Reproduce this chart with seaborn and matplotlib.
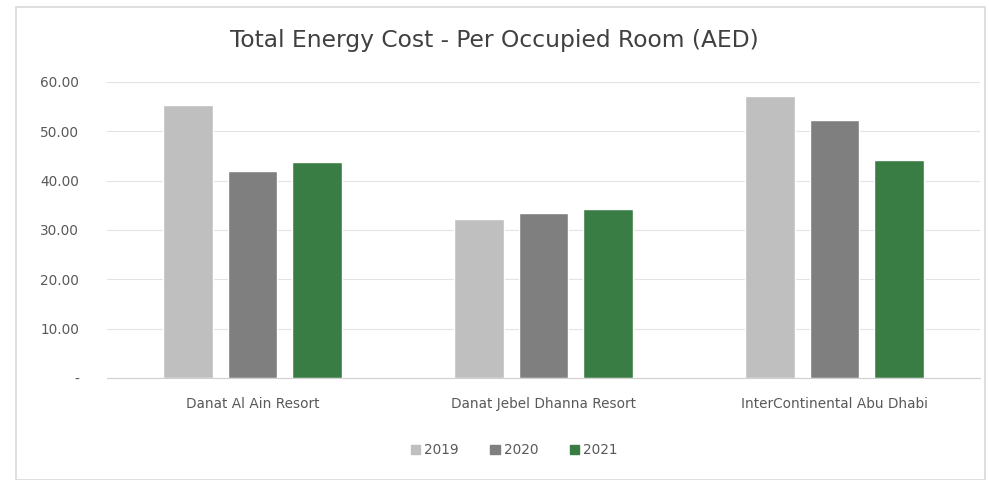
import pandas as pd
import seaborn as sns
import matplotlib.pyplot as plt
from matplotlib.patches import Rectangle
from matplotlib.ticker import FuncFormatter

# data
hotels = ['Danat Al Ain Resort', 'Danat Jebel Dhanna Resort', 'InterContinental Abu Dhabi']
years = ['2019', '2020', '2021']
cost_2019 = [55.3, 32.2, 57.1]
cost_2020 = [41.9, 33.4, 52.2]
cost_2021 = [43.7, 34.2, 44.1]
y_ticks = [0, 10, 20, 30, 40, 50, 60]

df = pd.DataFrame({
    'Hotel': hotels * 3,
    'Year': [y for y in years for _ in hotels],
    'Cost': cost_2019 + cost_2020 + cost_2021,
})

sns.set_style('white')
plt.rcParams['font.family'] = ['DejaVu Sans']

fig = plt.figure(figsize=(9.89, 4.8), dpi=100)
ax = fig.add_axes([0.108, 0.2125, 0.883, 0.617])

palette = {'2019': '#BFBFBF', '2020': '#7F7F7F', '2021': '#3A7D44'}
sns.barplot(data=df, x='Hotel', y='Cost', hue='Year', palette=palette,
            width=0.665, gap=0.23, saturation=1, ax=ax, legend=False)

ax.set_ylim(0, 60)
ax.set_yticks(y_ticks)
ax.yaxis.set_major_formatter(FuncFormatter(lambda v, p: '-' if v == 0 else f'{v:.2f}'))
ax.grid(axis='y', color='#E3E3E3', linewidth=0.8)
ax.set_axisbelow(True)
for s in ['top', 'right', 'left']:
    ax.spines[s].set_visible(False)
ax.spines['bottom'].set_color('#D0D0D0')
ax.tick_params(axis='both', length=0, colors='#595959', labelsize=9.8)
ax.tick_params(axis='y', pad=20)
ax.tick_params(axis='x', pad=14)
ax.set_xlabel('')
ax.set_ylabel('')

fig.text(0.5, 0.915, 'Total Energy Cost - Per Occupied Room (AED)',
         ha='center', va='center', fontsize=16.8, color='#404040')

# legend
handles = [Rectangle((0, 0), 1, 1, color=palette[y]) for y in years]
fig.legend(handles, years, loc='center', bbox_to_anchor=(0.52, 0.062), ncol=3,
           frameon=False, fontsize=9.8, handlelength=0.7, handleheight=0.7,
           handletextpad=0.3, columnspacing=2.3, labelcolor='#595959')

# chart border
fig.patches.append(Rectangle((0.016, 0.0), 0.98, 0.985, transform=fig.transFigure,
                             fill=False, edgecolor='#D9D9D9', linewidth=1.2))

plt.savefig('out.png', dpi=100)
